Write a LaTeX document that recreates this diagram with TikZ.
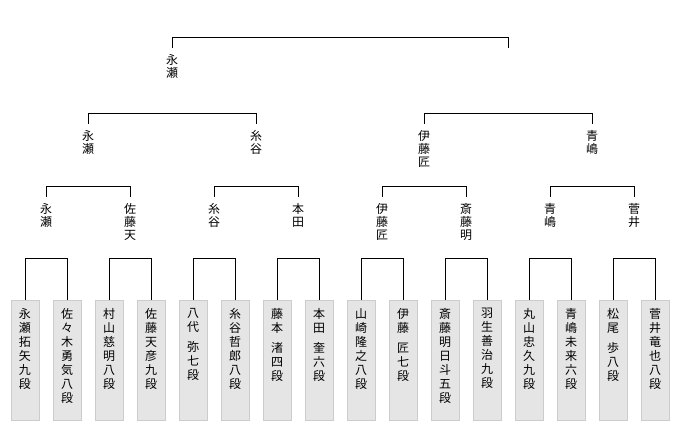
\documentclass[tikz,border=0pt]{standalone}
\usepackage{fontspec}
\newfontfamily\cjk{Noto Sans CJK JP}
\begin{document}
\begin{tikzpicture}[x=1pt,y=-1pt,
  leafbox/.style={draw=black!20,fill=black!10,minimum width=28pt,minimum height=120pt,inner sep=0pt,anchor=north},
  leaftext/.style={anchor=north,inner sep=0pt,align=center,font=\cjk\fontsize{12}{14}\selectfont},
  lab/.style={anchor=north,inner xsep=0pt,inner ysep=6pt,align=center,font=\cjk\fontsize{12}{13}\selectfont},
  con/.style={draw=black,line width=0.8pt}]
\useasboundingbox (0,0) rectangle (680,430);
\foreach \i/\t in {1/{永\\瀬\\拓\\矢\\九\\段},2/{佐\\々\\木\\勇\\気\\八\\段},3/{村\\山\\慈\\明\\八\\段},4/{佐\\藤\\天\\彦\\九\\段},
 5/{八\\代\\[6pt]弥\\七\\段},6/{糸\\谷\\哲\\郎\\八\\段},7/{藤\\本\\[6pt]渚\\四\\段},8/{本\\田\\[6pt]奎\\六\\段},
 9/{山\\崎\\隆\\之\\八\\段},10/{伊\\藤\\[6pt]匠\\七\\段},11/{斎\\藤\\明\\日\\斗\\五\\段},12/{羽\\生\\善\\治\\九\\段},
 13/{丸\\山\\忠\\久\\九\\段},14/{青\\嶋\\未\\来\\六\\段},15/{松\\尾\\[6pt]歩\\八\\段},16/{菅\\井\\竜\\也\\八\\段}}{
  \node[leafbox] (b\i) at ({25+42*(\i-1)},300) {};
  \node[leaftext] (t\i) at ({25+42*(\i-1)},308) {\t};
}
\foreach \i/\t in {1/{永\\瀬},2/{佐\\藤\\天},3/{糸\\谷},4/{本\\田},5/{伊\\藤\\匠},6/{斎\\藤\\明},7/{青\\嶋},8/{菅\\井}}{
  \node[lab] (m\i) at ({46+84*(\i-1)},197) {\t};
}
\foreach \i/\t in {1/{永\\瀬},2/{糸\\谷},3/{伊\\藤\\匠},4/{青\\嶋}}{
  \node[lab] (n\i) at ({88+168*(\i-1)},124) {\t};
}
\node[lab] (p1) at (172,48) {永\\瀬};
\coordinate (p2) at (508,48);
\foreach \a/\b in {1/2,3/4,5/6,7/8,9/10,11/12,13/14,15/16}{
  \draw[con] (b\a.north) -- ++(0,-42) -| (b\b.north);
}
\foreach \a/\b in {1/2,3/4,5/6,7/8}{
  \draw[con] (m\a.north) -- ++(0,-11) -| (m\b.north);
}
\foreach \a/\b in {1/2,3/4}{
  \draw[con] (n\a.north) -- ++(0,-11) -| (n\b.north);
}
\draw[con] (p1.north) -- ++(0,-11) -| (p2);
\end{tikzpicture}
\end{document}
